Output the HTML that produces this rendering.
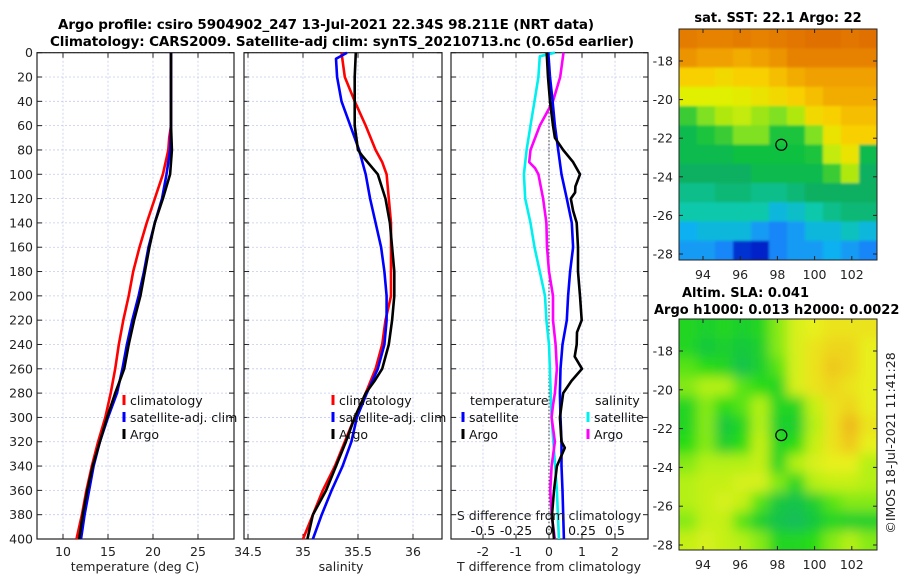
<!DOCTYPE html>
<html><head><meta charset="utf-8"><style>
html,body{margin:0;padding:0;background:#fff;}
svg{display:block;font-family:"DejaVu Sans","Liberation Sans",sans-serif;}
</style></head><body>
<svg id="fig" width="900" height="580" viewBox="0 0 900 580" xmlns="http://www.w3.org/2000/svg">
<defs>
<filter id="blur2" x="0" y="0" width="100%" height="100%"><feGaussianBlur stdDeviation="1.2"/></filter>
<filter id="blur6" x="0" y="0" width="100%" height="100%"><feGaussianBlur stdDeviation="6"/></filter>
<clipPath id="clipMap1"><rect x="679" y="29" width="198" height="231"/></clipPath>
<clipPath id="clipMap2"><rect x="679" y="319" width="198" height="231"/></clipPath>
</defs>
<text x="58" y="29" font-size="13.5" font-weight="bold" textLength="536">Argo profile: csiro 5904902_247 13-Jul-2021 22.34S 98.211E (NRT data)</text>
<text x="50" y="46" font-size="13.5" font-weight="bold" textLength="584">Climatology: CARS2009. Satellite-adj clim: synTS_20210713.nc (0.65d earlier)</text>
<g id="plots"></g>
</svg>
<script>
// depth levels (m)
const depthLevels=[0,20,40,60,80,100,120,140,160,180,200,220,240,260,280,300,320,340,360,380,400];
// temperature profiles (deg C)
const tempClimDepth=[0,60,70,80,100,120,140,160,180,200,220,240,260,280,300,320,340,360,380,400];
const tempClim=[22.0,22.0,21.8,21.7,21.1,20.2,19.3,18.5,17.8,17.3,16.7,16.2,15.8,15.3,14.7,13.9,13.2,12.6,12.1,11.5];
const tempSatDepth=[0,60,80,100,120,140,160,180,200,220,240,260,280,300,320,340,360,380,400];
const tempSat=[22.0,22.0,21.9,21.5,21.0,20.2,19.5,19.0,18.4,17.7,17.1,16.6,16.0,15.0,14.1,13.4,12.9,12.4,12.0];
const tempArgoDepth=[0,60,80,100,110,120,140,160,180,200,220,240,260,270,280,300,320,340,360,380,400];
const tempArgo=[22.0,22.0,22.1,21.9,21.5,21.1,20.2,19.6,19.1,18.6,17.9,17.3,16.8,16.3,15.8,14.9,14.1,13.3,12.7,12.2,11.8];
// salinity profiles
const salClimDepth=[0,20,40,60,80,90,100,120,140,200,220,240,260,280,300,320,340,360,380,400];
const salClim=[35.35,35.38,35.47,35.57,35.66,35.72,35.76,35.78,35.80,35.80,35.75,35.72,35.66,35.57,35.47,35.38,35.29,35.18,35.09,35.00];
const salSatDepth=[0,5,20,40,60,80,100,120,140,160,180,200,220,240,260,280,300,320,340,360,380,400];
const salSat=[35.40,35.30,35.31,35.35,35.43,35.51,35.57,35.61,35.66,35.71,35.74,35.76,35.76,35.74,35.68,35.58,35.49,35.44,35.36,35.26,35.17,35.09];
const salArgoDepth=[0,20,40,60,80,85,100,120,140,160,180,200,220,240,260,270,280,300,320,340,360,380,400];
const salArgo=[35.48,35.47,35.47,35.47,35.50,35.54,35.68,35.75,35.79,35.81,35.83,35.83,35.81,35.78,35.72,35.65,35.57,35.47,35.39,35.30,35.21,35.09,35.04];
// differences
const sDiffSatDepth=[0,3,20,40,60,80,100,120,140,160,180,200,220,240,300,360,400];
const sDiffSat=[0.045,-0.07,-0.08,-0.11,-0.14,-0.17,-0.19,-0.18,-0.14,-0.11,-0.07,-0.03,-0.02,0.0,0.02,0.06,0.075];
const sDiffArgoDepth=[0,20,40,60,80,90,95,100,120,140,160,180,200,220,240,260,280,290,300,320,340,360,380,400];
const sDiffArgo=[0.11,0.085,0.03,-0.07,-0.14,-0.15,-0.105,-0.08,-0.045,-0.02,-0.015,0.0,0.03,0.03,0.05,0.06,0.045,0.03,0.02,0.045,0.02,0.01,0.02,0.045];
const tDiffSatDepth=[0,20,40,60,80,100,120,140,160,180,200,220,240,260,280,300,320,340,360,380,400];
const tDiffSat=[-0.02,0.03,0.11,0.18,0.28,0.38,0.54,0.69,0.73,0.64,0.58,0.54,0.41,0.35,0.33,0.35,0.38,0.38,0.41,0.43,0.45];
const tDiffArgoDepth=[0,20,40,60,70,80,90,100,110,115,120,130,140,160,180,200,220,230,240,250,260,265,270,280,290,300,320,325,340,360,380,400];
const tDiffArgo=[-0.07,-0.03,0.03,0.12,0.18,0.43,0.73,0.94,0.8,0.79,0.66,0.73,0.84,0.88,0.88,0.94,0.99,0.85,0.84,0.78,1.0,0.84,0.68,0.43,0.38,0.33,0.38,0.48,0.24,0.15,0.09,0.15];
// tick labels
const depthTicks=depthLevels;
const tempTicks=[10,15,20,25];
const salTicks=[34.5,35,35.5,36];
const tDiffTicks=[-2,-1,0,1,2];
const sDiffTicks=[-0.5,-0.25,0,0.25,0.5];
const sDiffTickLabels=["-0.5","-0.25","0","0.25","0.5"];
// map grids (normalised colour values, rows north->south, cols west->east)
const sstGrid=[
[0.86,0.85,0.85,0.86,0.85,0.86,0.87,0.88,0.88,0.87,0.88],
[0.82,0.80,0.80,0.78,0.80,0.82,0.85,0.85,0.85,0.85,0.85],
[0.72,0.72,0.70,0.72,0.72,0.75,0.78,0.80,0.80,0.80,0.80],
[0.65,0.65,0.65,0.66,0.68,0.70,0.72,0.75,0.78,0.78,0.78],
[0.50,0.55,0.60,0.62,0.58,0.55,0.60,0.70,0.72,0.75,0.75],
[0.45,0.48,0.50,0.55,0.55,0.48,0.48,0.55,0.68,0.72,0.72],
[0.45,0.45,0.45,0.47,0.47,0.47,0.47,0.48,0.62,0.68,0.45],
[0.42,0.42,0.42,0.42,0.45,0.45,0.45,0.45,0.50,0.60,0.42],
[0.38,0.38,0.40,0.40,0.38,0.38,0.40,0.42,0.42,0.42,0.42],
[0.35,0.35,0.35,0.35,0.35,0.30,0.32,0.35,0.38,0.40,0.40],
[0.28,0.30,0.30,0.30,0.25,0.22,0.25,0.30,0.30,0.33,0.30],
[0.25,0.25,0.22,0.12,0.10,0.22,0.25,0.25,0.28,0.25,0.22]];
const slaGrid=[
[0.30,0.25,0.30,0.25,0.30,0.45,0.60,0.65,0.70,0.70,0.70],
[0.30,0.20,0.25,0.20,0.25,0.45,0.60,0.70,0.75,0.75,0.65],
[0.40,0.35,0.30,0.15,0.25,0.40,0.60,0.70,0.80,0.75,0.65],
[0.45,0.50,0.50,0.40,0.35,0.30,0.60,0.70,0.75,0.70,0.65],
[0.30,0.45,0.35,0.40,0.50,0.30,0.30,0.55,0.70,0.75,0.65],
[0.30,0.45,0.20,0.30,0.50,0.25,0.25,0.50,0.70,0.85,0.70],
[0.35,0.45,0.25,0.35,0.55,0.30,0.35,0.55,0.70,0.80,0.65],
[0.45,0.50,0.50,0.50,0.55,0.30,0.50,0.60,0.65,0.65,0.50],
[0.50,0.55,0.55,0.60,0.60,0.45,0.30,0.50,0.55,0.55,0.50],
[0.50,0.55,0.60,0.55,0.40,0.20,0.15,0.25,0.40,0.45,0.45],
[0.45,0.55,0.55,0.40,0.25,0.15,0.10,0.20,0.30,0.25,0.25],
[0.55,0.60,0.55,0.50,0.45,0.30,0.30,0.35,0.45,0.50,0.45]];
const lonTicks=[94,96,98,100,102];
const latTicks=[-18,-20,-22,-24,-26,-28];
const argoLon=98.211, argoLat=-22.34;

const NS="http://www.w3.org/2000/svg";
const root=document.getElementById('plots');
function mk(tag,attrs,parent){const e=document.createElementNS(NS,tag);for(const k in attrs)e.setAttribute(k,attrs[k]);(parent||root).appendChild(e);return e;}
const Y0=52.7,Y1=539;
const yD=d=>Y0+(Y1-Y0)*d/400;
const xT=t=>63+(t-10)*9;
const xS=s=>303+(s-35)*110;
const xTd=t=>549+t*33;
const xSd=s=>549+s*132;

function panel(name,x0,x1,xTicks,xf,labels,showY){
  const g=mk('g',{});
  
  
  depthTicks.forEach(d=>{const y=yD(d);
    const l=mk('line',{x1:x0,x2:x1,y1:y,y2:y,stroke:'#c4cbee','stroke-width':0.8,'stroke-dasharray':'2,2'},g);
    
    mk('line',{x1:x0,x2:x0+5,y1:y,y2:y,stroke:'#222','stroke-width':1},g);
    mk('line',{x1:x1-5,x2:x1,y1:y,y2:y,stroke:'#222','stroke-width':1},g);
    if(showY){const t=mk('text',{x:33,y:y+4.5,'font-size':12.5,'text-anchor':'end',fill:'#222'},g);t.textContent=d;
      }
  });
  xTicks.forEach((v,i)=>{const x=xf(v);
    const l=mk('line',{x1:x,x2:x,y1:Y0,y2:Y1,stroke:'#c4cbee','stroke-width':0.8,'stroke-dasharray':'2,2'},g);
    
    mk('line',{x1:x,x2:x,y1:Y1,y2:Y1-5,stroke:'#222'},g);
    mk('line',{x1:x,x2:x,y1:Y0,y2:Y0+5,stroke:'#222'},g);
    if(labels){const t=mk('text',{x:x,y:556,'font-size':12.5,'text-anchor':'middle',fill:'#222'},g);t.textContent=labels[i];
      }
  });
  const f=mk('rect',{x:x0,y:Y0,width:x1-x0,height:Y1-Y0,fill:'none',stroke:'#222','stroke-width':1.2},g);
  
  return g;
}
function line(g,depths,vals,xf,color,name){
  const pts=depths.map((d,i)=>xf(vals[i]).toFixed(1)+','+yD(d).toFixed(1)).join(' ');
  const p=mk('polyline',{points:pts,fill:'none',stroke:color,'stroke-width':2.6,'stroke-linejoin':'round'},g);
  
  
}
function legendEntry(g,x,y,color,label,name){
  const e=mk('g',{},g);
  
  
  mk('line',{x1:x,x2:x,y1:y-10,y2:y,stroke:color,'stroke-width':3},e);
  const t=mk('text',{x:x+6,y:y,'font-size':12.5,fill:'#111'},e);t.textContent=label;
}
function xtitle(g,x,y,txt,name){const t=mk('text',{x:x,y:y,'font-size':12.5,'text-anchor':'middle',fill:'#222'},g);t.textContent=txt;
  }

// Panel 1 temperature
const g1=panel('temperature-panel',37,234,tempTicks,xT,tempTicks.map(String),true);
line(g1,tempClimDepth,tempClim,xT,'#f00','temp-climatology-line');
line(g1,tempSatDepth,tempSat,xT,'#00f','temp-satellite-line');
line(g1,tempArgoDepth,tempArgo,xT,'#000','temp-argo-line');
legendEntry(g1,124,405,'#f00','climatology','legend-climatology');
legendEntry(g1,124,422,'#00f','satellite-adj. clim','legend-satellite-adj');
legendEntry(g1,124,439,'#000','Argo','legend-argo');
xtitle(g1,135,571,'temperature (deg C)','x-axis-title-temperature');

// Panel 2 salinity
const g2=panel('salinity-panel',244,442,salTicks,xS,["34.5","35","35.5","36"],false);
line(g2,salClimDepth,salClim,xS,'#f00','sal-climatology-line');
line(g2,salSatDepth,salSat,xS,'#00f','sal-satellite-line');
line(g2,salArgoDepth,salArgo,xS,'#000','sal-argo-line');
legendEntry(g2,333,405,'#f00','climatology','legend-climatology');
legendEntry(g2,333,422,'#00f','satellite-adj. clim','legend-satellite-adj');
legendEntry(g2,333,439,'#000','Argo','legend-argo');
xtitle(g2,341,571,'salinity','x-axis-title-salinity');

// Panel 3 differences
const g3=panel('difference-panel',451,648,tDiffTicks,xTd,tDiffTicks.map(String),false);
const zl=mk('line',{x1:549,x2:549,y1:Y0,y2:Y1,stroke:'#333','stroke-width':1,'stroke-dasharray':'1.5,2'},g3);

line(g3,sDiffSatDepth,sDiffSat,xSd,'#00f0f0','sdiff-satellite-line');
line(g3,sDiffArgoDepth,sDiffArgo,xSd,'#f0f','sdiff-argo-line');
line(g3,tDiffSatDepth,tDiffSat,xTd,'#00f','tdiff-satellite-line');
line(g3,tDiffArgoDepth,tDiffArgo,xTd,'#000','tdiff-argo-line');
const lt=mk('text',{x:470,y:405,'font-size':12.5,fill:'#111'},g3);lt.textContent='temperature';

const ls=mk('text',{x:595,y:405,'font-size':12.5,fill:'#111'},g3);ls.textContent='salinity';

legendEntry(g3,463,422,'#00f','satellite','legend-t-satellite');
legendEntry(g3,463,439,'#000','Argo','legend-t-argo');
legendEntry(g3,588,422,'#00f0f0','satellite','legend-s-satellite');
legendEntry(g3,588,439,'#f0f','Argo','legend-s-argo');
sDiffTicks.forEach((v,i)=>{const t=mk('text',{x:xSd(v),y:535,'font-size':12.5,'text-anchor':'middle',fill:'#111'},g3);t.textContent=sDiffTickLabels[i];
  });
xtitle(g3,549,520,'S difference from climatology','s-diff-axis-title');
xtitle(g3,549,571,'T difference from climatology','t-diff-axis-title');

// Maps
const jetStops=[[0,[0,0,150]],[0.1,[0,32,200]],[0.2,[20,120,250]],[0.28,[16,176,240]],[0.35,[16,200,170]],[0.42,[16,176,96]],[0.47,[16,192,64]],[0.55,[128,224,32]],[0.65,[224,240,0]],[0.72,[248,208,0]],[0.8,[240,160,0]],[0.88,[224,112,0]],[1,[192,32,0]]];
const slaStops=[[0,[16,180,120]],[0.2,[24,200,60]],[0.35,[40,220,20]],[0.5,[180,240,20]],[0.65,[232,240,30]],[0.8,[240,200,30]],[0.9,[236,170,30]],[1,[230,140,30]]];
function cmap(stops,v){for(let i=1;i<stops.length;i++){if(v<=stops[i][0]){const a=stops[i-1],b=stops[i];const t=(v-a[0])/(b[0]-a[0]);
  const c=a[1].map((x,k)=>Math.round(x+(b[1][k]-x)*t));return 'rgb('+c.join(',')+')';}}return 'rgb('+stops[stops.length-1][1].join(',')+')';}
function mapPanel(name,top,bottom,latTop,latScale,grid,stops,filt,clip){
  const g=mk('g',{});
  
  
  const x0=679,x1=877,lonX=lon=>703+(lon-94)*18.6, latY=lat=>latTop+(-18-lat)*latScale;
  const rows=grid.length,cols=grid[0].length,cw=(x1-x0)/cols,ch=(bottom-top)/rows;
  const cg=mk('g',{'clip-path':'url(#'+clip+')'},g);
  const ig=mk('g',{filter:'url(#'+filt+')'},cg);
  mk('rect',{x:x0-20,y:top-20,width:x1-x0+40,height:bottom-top+40,fill:cmap(stops,grid[0][0])},ig);
  grid.forEach((row,r)=>row.forEach((v,c)=>{
    const cell=mk('rect',{x:(x0+c*cw-(c==0?20:0)).toFixed(1),y:(top+r*ch-(r==0?20:0)).toFixed(1),width:(cw+0.6+(c==0||c==cols-1?20:0)).toFixed(1),height:(ch+0.6+(r==0||r==rows-1?20:0)).toFixed(1),fill:cmap(stops,v)},ig);
    
    
  }));
  mk('rect',{x:x0,y:top,width:x1-x0,height:bottom-top,fill:'none',stroke:'#222','stroke-width':1},g);
  lonTicks.forEach(lon=>{const x=lonX(lon);
    mk('line',{x1:x,x2:x,y1:bottom,y2:bottom-4,stroke:'#222'},g);
    mk('line',{x1:x,x2:x,y1:top,y2:top+4,stroke:'#222'},g);
    const t=mk('text',{x:x,y:bottom+19,'font-size':12.5,'text-anchor':'middle',fill:'#222'},g);t.textContent=lon;
    });
  latTicks.forEach(lat=>{const y=latY(lat);
    mk('line',{x1:x0,x2:x0+4,y1:y,y2:y,stroke:'#222'},g);
    mk('line',{x1:x1,x2:x1-4,y1:y,y2:y,stroke:'#222'},g);
    const t=mk('text',{x:673,y:y+4.5,'font-size':12.5,'text-anchor':'end',fill:'#222'},g);t.textContent=lat;
    });
  const m=mk('circle',{cx:lonX(argoLon),cy:latY(argoLat),r:5.5,fill:'none',stroke:'#000','stroke-width':1.2},g);
  
}
mapPanel('sst-map',29,260,61,19.3,sstGrid,jetStops,'blur2','clipMap1');
mapPanel('sla-map',319,550,351,19.4,slaGrid,slaStops,'blur6','clipMap2');
const mt=mk('text',{x:778,y:22,'font-size':13,'font-weight':'bold','text-anchor':'middle'});mt.textContent='sat. SST: 22.1 Argo: 22';

const a1=mk('text',{x:682,y:297,'font-size':13,'font-weight':'bold'});a1.textContent='Altim. SLA: 0.041';

const a2=mk('text',{x:654,y:314,'font-size':13,'font-weight':'bold'});a2.textContent='Argo h1000: 0.013 h2000: 0.0022';

const cr=mk('text',{x:0,y:0,'font-size':12.5,'text-anchor':'middle',fill:'#222',transform:'translate(895,443) rotate(-90)'});cr.textContent='©IMOS 18-Jul-2021 11:41:28';

</script>
</body></html>
